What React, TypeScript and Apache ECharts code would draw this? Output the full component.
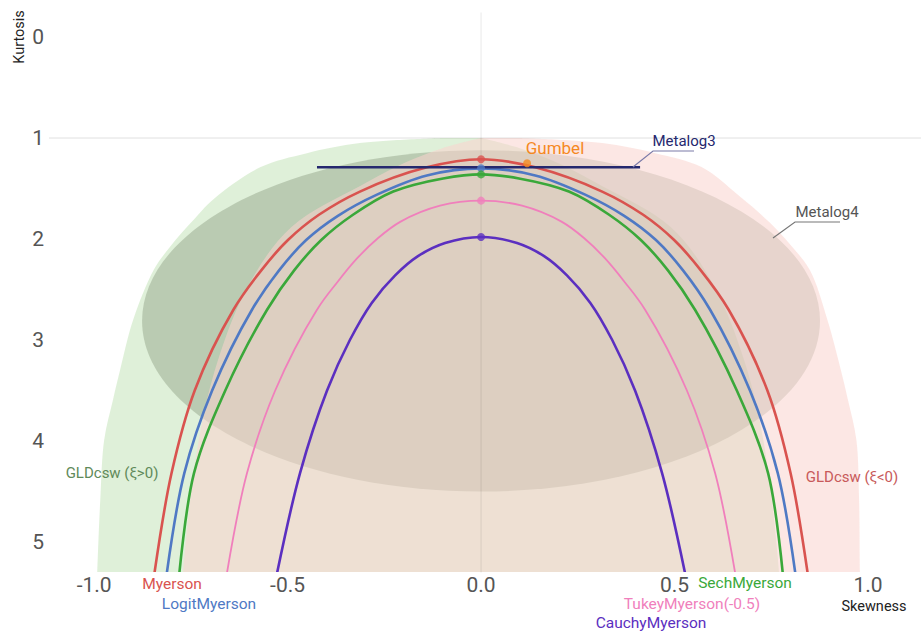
import React, { useEffect, useRef } from "react";
import * as echarts from "echarts";

const xTicks = [-1.0, -0.5, 0.0, 0.5, 1.0];
const yTicks = [0, 1, 2, 3, 4, 5];

const myerson = [[-0.846,5.36],[-0.80,4.32],[-0.74,3.50],[-0.64,2.70],[-0.568,2.31],[-0.499,2.01],[-0.419,1.76],[-0.313,1.53],[-0.14,1.29],[0,1.21],[0.14,1.29],[0.313,1.53],[0.419,1.76],[0.499,2.01],[0.568,2.31],[0.64,2.70],[0.74,3.50],[0.80,4.32],[0.846,5.36]];
const logitMyerson = [[-0.814,5.36],[-0.767,4.32],[-0.695,3.50],[-0.592,2.70],[-0.522,2.31],[-0.452,2.01],[-0.370,1.77],[-0.269,1.56],[-0.14,1.37],[0,1.30],[0.14,1.37],[0.269,1.56],[0.370,1.77],[0.452,2.01],[0.522,2.31],[0.592,2.70],[0.695,3.50],[0.767,4.32],[0.814,5.36]];
const sechMyerson = [[-0.781,5.36],[-0.742,4.32],[-0.661,3.50],[-0.553,2.70],[-0.483,2.31],[-0.413,2.01],[-0.331,1.76],[-0.227,1.53],[-0.098,1.40],[0,1.36],[0.098,1.40],[0.227,1.53],[0.331,1.76],[0.413,2.01],[0.483,2.31],[0.553,2.70],[0.661,3.50],[0.742,4.32],[0.781,5.36]];
const tukeyMyerson = [[-0.659,5.36],[-0.605,4.32],[-0.532,3.50],[-0.424,2.70],[-0.372,2.43],[-0.320,2.19],[-0.266,1.99],[-0.209,1.83],[-0.106,1.67],[0,1.62],[0.106,1.67],[0.209,1.83],[0.266,1.99],[0.320,2.19],[0.372,2.43],[0.424,2.70],[0.532,3.50],[0.605,4.32],[0.659,5.36]];
const cauchyMyerson = [[-0.53,5.36],[-0.468,4.32],[-0.398,3.50],[-0.339,3.00],[-0.282,2.63],[-0.222,2.36],[-0.163,2.17],[-0.093,2.04],[0,1.98],[0.093,2.04],[0.163,2.17],[0.222,2.36],[0.282,2.63],[0.339,3.00],[0.398,3.50],[0.468,4.32],[0.53,5.36]];

const gumbel = [0.119, 1.25];
const metalog3 = [[-0.424, 1.29], [0.411, 1.29]];
const metalog4Center = [0, 2.81];
const metalog4Radii = [0.876, 1.69];

// GLDcsw (xi>0): outer left boundary top->bottom, then inner right boundary bottom->top
const gldPosOuter = [[-0.098,1.0],[-0.313,1.05],[-0.45,1.15],[-0.571,1.29],[-0.69,1.60],[-0.75,1.84],[-0.80,2.06],[-0.845,2.30],[-0.899,2.80],[-0.933,3.30],[-0.951,3.59],[-0.974,3.99],[-0.984,4.58],[-0.992,5.30],[-0.995,5.6]];
const gldPosInner = [[0.772,5.6],[0.77,5.30],[0.73,4.0],[0.68,3.2],[0.6,2.45],[0.49,1.88],[0.31,1.47],[0.2,1.25],[0.1,1.1],[0,1.0]];
// GLDcsw (xi<0)
const gldNegOuter = [[0.098,1.0],[0.313,1.05],[0.45,1.15],[0.571,1.29],[0.669,1.58],[0.744,1.83],[0.80,2.06],[0.85,2.31],[0.895,2.80],[0.93,3.30],[0.948,3.59],[0.97,3.99],[0.977,4.58],[0.979,5.30],[0.981,5.6]];
const gldNegInner = [[-0.772,5.6],[-0.77,5.30],[-0.73,4.0],[-0.68,3.2],[-0.6,2.45],[-0.49,1.88],[-0.31,1.47],[-0.2,1.25],[-0.1,1.1],[0,1.0]];

const topDots = [
  { value: [0, 1.21], color: "#d9534f" },
  { value: [0, 1.30], color: "#4f79c4" },
  { value: [0, 1.36], color: "#3aa83a" },
  { value: [0, 1.62], color: "#f07fbc" },
  { value: [0, 1.98], color: "#5b2fc0" },
];

// centripetal Catmull-Rom through the projected points (rendering only)
function splinePath(p: number[][], close: boolean) {
  let d = `M${p[0][0]} ${p[0][1]}`;
  for (let i = 0; i < p.length - 1; i++) {
    const p0 = i > 0 ? p[i - 1] : p[i];
    const p1 = p[i];
    const p2 = p[i + 1];
    const p3 = i + 2 < p.length ? p[i + 2] : p[i + 1];
    const d1 = Math.sqrt(Math.hypot(p1[0] - p0[0], p1[1] - p0[1]));
    const d2 = Math.sqrt(Math.hypot(p2[0] - p1[0], p2[1] - p1[1]));
    const d3 = Math.sqrt(Math.hypot(p3[0] - p2[0], p3[1] - p2[1]));
    let c1 = p1;
    let c2 = p2;
    if (d1 > 1e-6 && d2 > 1e-6) {
      const a = 2 * d1 * d1 + 3 * d1 * d2 + d2 * d2;
      const b = 3 * d1 * (d1 + d2);
      c1 = [
        (d1 * d1 * p2[0] - d2 * d2 * p0[0] + a * p1[0]) / b,
        (d1 * d1 * p2[1] - d2 * d2 * p0[1] + a * p1[1]) / b,
      ];
    }
    if (d3 > 1e-6 && d2 > 1e-6) {
      const a = 2 * d3 * d3 + 3 * d3 * d2 + d2 * d2;
      const b = 3 * d3 * (d3 + d2);
      c2 = [
        (d3 * d3 * p1[0] - d2 * d2 * p3[0] + a * p2[0]) / b,
        (d3 * d3 * p1[1] - d2 * d2 * p3[1] + a * p2[1]) / b,
      ];
    }
    d += ` C${c1[0]} ${c1[1]} ${c2[0]} ${c2[1]} ${p2[0]} ${p2[1]}`;
  }
  if (close) d += " Z";
  return d;
}

function curveSeries(pts: number[][], style: any, z: number, close: boolean) {
  return {
    type: "custom",
    z,
    silent: true,
    clip: true,
    data: pts,
    encode: { x: 0, y: 1 },
    renderItem: (params: any, api: any) => {
      if (params.dataIndex !== 0) return null;
      const px = pts.map((p) => api.coord(p));
      return { type: "path", shape: { pathData: splinePath(px, close) }, style };
    },
  };
}

const lineStyleOf = (stroke: string, lineWidth: number) => ({ stroke, lineWidth, fill: "none" });

function straightSeries(data: number[][], color: string, width: number, z: number) {
  return {
    type: "line",
    data,
    z,
    symbol: "none",
    showSymbol: false,
    clip: true,
    silent: true,
    lineStyle: { color, width },
  };
}

const txt = (text: string, x: number, y: number, fill: string, size: number, extra: any = {}) => ({
  type: "text",
  x,
  y,
  z: 100,
  silent: true,
  style: {
    text,
    fill,
    font: `${size}px Roboto`,
    textAlign: "center",
    textVerticalAlign: "middle",
    verticalAlign: "middle",
  },
  ...extra,
});

export default function App() {
  const ref = useRef<HTMLDivElement>(null);
  useEffect(() => {
    document.body.style.margin = "0";
    const chart = echarts.init(ref.current!, undefined, { renderer: "svg" });
    const option: any = {
      animation: false,
      backgroundColor: "#ffffff",
      grid: { left: 50, right: 0, top: 13, bottom: 60, containLabel: false },
      xAxis: {
        type: "value",
        min: -1.114,
        max: 1.137,
        axisLine: { show: false },
        axisTick: { show: false },
        splitLine: { show: false },
        axisLabel: {
          customValues: xTicks,
          formatter: (v: number) => v.toFixed(1),
          color: "#555",
          fontSize: 21,
          fontFamily: "Roboto",
          margin: 2,
        },
      },
      yAxis: {
        type: "value",
        inverse: true,
        min: -0.238,
        max: 5.297,
        axisLine: { show: false },
        axisTick: { show: false },
        splitLine: { show: false },
        axisLabel: {
          customValues: yTicks,
          formatter: (v: number) => String(v),
          color: "#555",
          fontSize: 21,
          fontFamily: "Roboto",
          margin: 6,
        },
      },
      series: [
        curveSeries([...gldPosOuter, ...gldPosInner], { fill: "rgba(150,205,130,0.3)" }, 1, true),
        {
          type: "custom",
          z: 2,
          silent: true,
          clip: true,
          data: [metalog4Center],
          renderItem: (params: any, api: any) => {
            const c = api.coord(metalog4Center);
            const s = api.size(metalog4Radii);
            return {
              type: "ellipse",
              shape: { cx: c[0], cy: c[1], rx: s[0], ry: s[1] },
              style: { fill: "rgba(110,125,95,0.32)" },
            };
          },
        },
        curveSeries([...gldNegOuter, ...gldNegInner], { fill: "rgba(250,212,205,0.55)" }, 3, true),
        straightSeries([[0, -1], [0, 6]], "rgba(0,0,0,0.09)", 1, 4),
        straightSeries([[-1.3, 1], [1.3, 1]], "rgba(0,0,0,0.12)", 1, 4),
        curveSeries(myerson, lineStyleOf("#d9534f", 2.6), 5, false),
        curveSeries(logitMyerson, lineStyleOf("#4f79c4", 2.6), 5, false),
        curveSeries(sechMyerson, lineStyleOf("#3aa83a", 2.6), 5, false),
        curveSeries(tukeyMyerson, lineStyleOf("#f07fbc", 1.8), 5, false),
        curveSeries(cauchyMyerson, lineStyleOf("#5b2fc0", 2.6), 5, false),
        straightSeries(metalog3, "#25286e", 2.4, 6),
        {
          type: "scatter",
          z: 7,
          silent: true,
          symbolSize: 8,
          data: topDots.map((d) => ({ value: d.value, itemStyle: { color: d.color } })),
        },
        {
          type: "scatter",
          z: 7,
          silent: true,
          symbolSize: 8,
          data: [gumbel],
          itemStyle: { color: "#f5891f" },
        },
      ],
      graphic: [
        txt("Kurtosis", 19, 37, "#222", 14.5, { rotation: Math.PI / 2 }),
        txt("Skewness", 874, 606, "#222", 14.5),
        txt("Myerson", 172, 584, "#d9534f", 15.5),
        txt("LogitMyerson", 209, 604, "#4f79c4", 15.5),
        txt("SechMyerson", 745, 583, "#3aa83a", 15.5),
        txt("TukeyMyerson(-0.5)", 692, 604, "#f07fbc", 15.5),
        txt("CauchyMyerson", 651, 623, "#5b2fc0", 15.5),
        txt("GLDcsw (ξ>0)", 112, 473, "#5f8a5a", 15),
        txt("GLDcsw (ξ<0)", 852, 477, "#c85a5a", 15),
        txt("Gumbel", 555, 148, "#f5891f", 17),
        txt("Metalog3", 684, 141, "#25286e", 15),
        txt("Metalog4", 827, 212, "#555", 15),
        {
          type: "polyline",
          z: 100,
          silent: true,
          shape: { points: [[633, 167], [653, 151], [694, 151]] },
          style: { stroke: "#7a7aa8", lineWidth: 1.2, fill: null },
        },
        {
          type: "polyline",
          z: 100,
          silent: true,
          shape: { points: [[773, 238], [795, 222], [840, 222]] },
          style: { stroke: "#777", lineWidth: 1.2, fill: null },
        },
      ],
    };
    chart.setOption(option);
    return () => chart.dispose();
  }, []);
  return <div ref={ref} style={{ width: 921, height: 632 }} />;
}
